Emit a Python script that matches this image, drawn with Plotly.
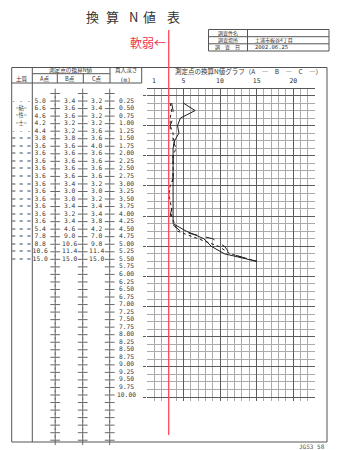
import plotly.graph_objects as go

W, H = 340, 450

# ---------------- data ----------------
depths = [0.25, 0.50, 0.75, 1.00, 1.25, 1.50, 1.75, 2.00, 2.25, 2.50, 2.75,
          3.00, 3.25, 3.50, 3.75, 4.00, 4.25, 4.50, 4.75, 5.00, 5.25, 5.50]
n_a = [5.0, 6.6, 4.6, 4.2, 4.4, 3.8, 3.6, 3.6, 3.6, 3.6, 3.6,
       3.6, 3.6, 3.6, 3.6, 3.6, 3.6, 5.4, 7.8, 8.8, 10.6, 15.0]
n_b = [3.4, 3.6, 3.6, 3.2, 3.2, 3.8, 3.6, 3.6, 3.6, 3.6, 3.6,
       3.4, 3.0, 3.0, 3.4, 3.2, 3.4, 4.6, 9.0, 10.6, 11.4, 15.0]
n_c = [3.2, 3.4, 3.2, 3.2, 3.6, 3.6, 4.0, 3.6, 3.6, 3.6, 3.6,
       3.2, 3.0, 3.2, 3.4, 3.4, 3.8, 4.2, 7.0, 9.8, 11.4, 15.0]
soil = ['- - -', '=粘=', '=性=', '=土=', '- - -'] + ['= = ='] * 17

depth_rows = [k * 0.25 for k in range(1, 41)]          # 0.25 ... 10.00
depth_labels = ['%.2f' % d for d in depth_rows]
cross_rows = [k * 0.25 for k in range(0, 47)]           # 0 ... 11.50
x_ticks = [1, 5, 10, 15, 20]
SOFT_N = 3
N_MAX = 23

info_labels = ['調査件名', '調査場所', '調　査　日']
info_values = ['', '土浦市板谷4丁目', '2002.06.25']

# ---------------- layout helpers ----------------
def px(p):
    return p / W

def py(p):
    return 1 - p / H

MONO = 'DejaVu Sans Mono'
CJK = 'Noto Sans CJK JP'
INK = '#333333'
LINE = '#555555'

fig = go.Figure()

# ---------------- chart curves ----------------
for vals, dash, name in [(n_a, 'solid', 'A'), (n_b, 'dash', 'B'), (n_c, 'dot', 'C')]:
    fig.add_trace(go.Scatter(x=vals, y=depths, mode='lines', name=name,
                             line=dict(color='#1e1e1e', width=1, dash=dash),
                             xaxis='x', yaxis='y', showlegend=False))

# invisible trace to carry the top label axis
fig.add_trace(go.Scatter(x=[None], y=[None], xaxis='x3', yaxis='y',
                         showlegend=False, hoverinfo='skip'))

# ---------------- table ----------------
COL = dict(soil=9.5, a=28.5, b=58.0, c=85.0, depth=114.8)
CROSS = [43.5, 71.0, 98.0]

def tab_text(x, y, text, size=6.3, font=MONO, color=INK):
    fig.add_trace(go.Scatter(x=[x] * len(y), y=y, text=text, mode='text',
                             textfont=dict(family=font, size=size, color=color),
                             xaxis='x2', yaxis='y2', cliponaxis=False,
                             showlegend=False, hoverinfo='skip'))

soil_cjk = [(d, s) for d, s in zip(depths, soil) if not s.isascii()]
soil_asc = [(d, s) for d, s in zip(depths, soil) if s.isascii()]
tab_text(COL['soil'], [d for d, _ in soil_cjk], [s for _, s in soil_cjk], size=5.2, font=CJK)
tab_text(COL['soil'], [d for d, _ in soil_asc], [s for _, s in soil_asc], size=6.3, color='#555')
tab_text(COL['a'], depths, ['%.1f' % v for v in n_a])
tab_text(COL['b'], depths, ['%.1f' % v for v in n_b])
tab_text(COL['c'], depths, ['%.1f' % v for v in n_c])
tab_text(COL['depth'], depth_rows, depth_labels)

for cx in CROSS:
    fig.add_trace(go.Scatter(x=[cx] * len(cross_rows), y=cross_rows, mode='markers',
                             marker=dict(symbol='cross-thin', size=7,
                                         line=dict(width=1, color='#6a6a6a')),
                             xaxis='x2', yaxis='y2', cliponaxis=False,
                             showlegend=False, hoverinfo='skip'))

# ---------------- shapes (frame & table rules) ----------------
shapes = []

def hline(y, x0, x1, w=1, c=LINE):
    shapes.append(dict(type='line', xref='paper', yref='paper', x0=px(x0), x1=px(x1),
                       y0=py(y), y1=py(y), line=dict(color=c, width=w)))

def vline(x, y0, y1, w=1, c=LINE):
    shapes.append(dict(type='line', xref='paper', yref='paper', x0=px(x), x1=px(x),
                       y0=py(y0), y1=py(y1), line=dict(color=c, width=w)))

# outer frame
hline(67.5, 11.7, 327)
hline(442, 11.7, 327)
vline(11.7, 67.5, 442)
vline(327, 67.5, 442)
# table header rules
vline(32.3, 67.5, 442)
vline(110, 67.5, 83)
vline(141.7, 67.5, 83)
vline(57.3, 73.7, 83)
vline(83.3, 73.7, 83)
hline(73.7, 32.3, 110)
hline(83, 11.7, 141.7)
# info box
hline(29.5, 208.5, 329)
hline(36.7, 208.5, 329)
hline(43.8, 208.5, 329)
hline(51, 208.5, 329)
vline(208.5, 29.5, 51)
vline(247.5, 29.5, 51)
vline(329, 29.5, 51)
# red soft-ground line
shapes.append(dict(type='line', xref='x', yref='paper', x0=SOFT_N, x1=SOFT_N,
                   y0=py(435), y1=py(30), line=dict(color='#ff4a5a', width=1.3)))

# ---------------- annotations ----------------
ann = []

def text(x, y, s, size=7, font=CJK, color=INK, xanchor='center'):
    ann.append(dict(x=px(x), y=py(y), xref='paper', yref='paper', text=s,
                    showarrow=False, xanchor=xanchor, yanchor='middle',
                    font=dict(family=font, size=size, color=color)))

for ch, cx in zip(['換', '算', 'N', '値', '表'], [92.5, 112.5, 133.5, 149.5, 173.5]):
    text(cx, 16, ch, size=13, color='#333')

text(167.5, 42.5, '軟弱←', size=12, color='#f0304a', xanchor='right')

for lab, val, yy in zip(info_labels, info_values, [33.1, 40.3, 47.4]):
    text(228, yy, lab, size=5.0)
    text(253, yy, val, size=5.5 if val[:1].isdigit() else 5.0,
         font=MONO if val[:1].isdigit() else CJK, xanchor='left')

HS = 5.6
text(71, 70.3, '測定点の換算N値', size=HS)
text(125.8, 70.3, '貫入深さ', size=HS)
text(22, 79.0, '土質', size=HS)
text(44.8, 79.0, 'A点', size=HS)
text(70.3, 79.0, 'B点', size=HS)
text(96.7, 79.0, 'C点', size=HS)
text(125.8, 79.0, '(m)', size=6.0, font=MONO)
text(249, 70.5, '測定点の換算N値グラフ（A　―　B　―　C　―）', size=6.5)
text(312, 446.5, 'JGS3_58', size=6.0, font=MONO, color='#555')

# ---------------- layout ----------------
Y0_MAIN, Y0_TAB, K = 95.5, 93.5, 30.15
MAJ = '#5c5c5c'
MIN = '#ababab'

fig.update_layout(
    width=W, height=H, margin=dict(l=0, r=0, t=0, b=0),
    paper_bgcolor='white', plot_bgcolor='white',
    showlegend=False, shapes=shapes, annotations=ann,
    xaxis=dict(domain=[px(146.7), px(146.7 + 7.33 * N_MAX)], range=[0, N_MAX],
               tickmode='linear', tick0=0, dtick=5, showgrid=True,
               gridcolor=MAJ, gridwidth=1, showticklabels=False,
               zeroline=False, showline=False, ticks='',
               minor=dict(tick0=0, dtick=1, showgrid=True, gridcolor=MIN, gridwidth=1, ticks=''),
               anchor='y', layer='below traces'),
    xaxis3=dict(overlaying='x', side='top', range=[0, N_MAX], anchor='y',
                tickmode='array', tickvals=x_ticks, ticktext=[str(t) for t in x_ticks],
                showgrid=False, zeroline=False, showline=True, linecolor=LINE, linewidth=1,
                ticks='', ticklabelstandoff=3,
                tickfont=dict(family=MONO, size=6.5, color=INK)),
    yaxis=dict(domain=[py(Y0_MAIN + 10.12 * K), py(Y0_MAIN - 0.2 * K)],
               range=[10.12, -0.2], tickmode='linear', tick0=0, dtick=1,
               showgrid=True, gridcolor=MAJ, gridwidth=1,
               minor=dict(tick0=0, dtick=0.25, showgrid=True, gridcolor=MIN, gridwidth=1, ticks=''),
               ticks='outside', ticklen=3, tickcolor=MAJ, showticklabels=False,
               zeroline=False, showline=False, anchor='x'),
    xaxis2=dict(domain=[px(11.7), px(141.7)], range=[0, 130], visible=False, anchor='y2'),
    yaxis2=dict(domain=[py(445), py(84)],
                range=[(445 - Y0_TAB) / K, (84 - Y0_TAB) / K], visible=False, anchor='x2'),
)

fig.write_html('out.html')
